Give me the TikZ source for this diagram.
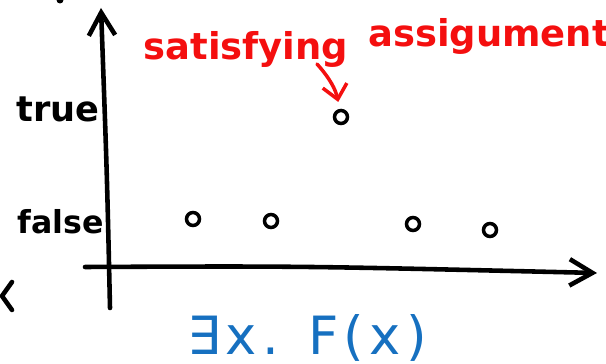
\documentclass[tikz,border=0pt]{standalone}
\usepackage{fontspec}
\usepackage{xcolor}
\usepackage{tikz}
\usetikzlibrary{arrows.meta}
\setmainfont{DejaVu Sans}
\newfontfamily\bluefont[LetterSpace=10]{DejaVu Sans}
\definecolor{handred}{HTML}{F40F0F}
\definecolor{handblue}{HTML}{1670C0}
\tikzset{
  axis/.style={draw=black,line width=1.3pt,line cap=round,
    -{Straight Barb[length=6.5pt,width=7.5pt]}},
  value pt/.style={circle,draw=black,line width=1pt,minimum size=0.13cm,inner sep=0pt},
  value label/.style={font=\bfseries\fontsize{10}{12}\selectfont,anchor=base},
  note/.style={text=handred,font=\bfseries\fontsize{10.5}{13}\selectfont,anchor=base},
  pointer/.style={draw=handred,line width=1pt,line cap=round,shorten >=2pt,
    -{Straight Barb[length=4pt,width=7pt]}},
  formula/.style={text=handblue,font=\bluefont\fontsize{15}{18}\selectfont,anchor=base},
  scrap/.style={draw=black,line width=1.3pt,line cap=round,line join=round}
}

\begin{document}
\begin{tikzpicture}
  \useasboundingbox (0,0) rectangle (6.06,3.64);
  \coordinate (yfoot) at (1.10,0.56);
  \coordinate (ytop) at (1.01,3.56);
  \coordinate (xleft) at (0.85,0.97);
  \coordinate (xright) at (5.97,0.91);
  \draw[axis] (yfoot) .. controls (1.07,1.9) .. (ytop);
  \draw[axis] (xleft) .. controls (3.0,0.98) .. (xright);
  \node[value label] (truelbl) at (0.58,2.42) {true};
  \node[value label,font=\bfseries\fontsize{9}{11}\selectfont] (falselbl) at (0.61,1.30) {false};
  \foreach \n/\x/\y in {f1/1.93/1.45, f2/2.71/1.43, f3/4.13/1.40, f4/4.90/1.34}
    \node[value pt] (\n) at (\x,\y) {};
  \node[value pt] (sat) at (3.41,2.47) {};
  \node[note] (satlbl) at (2.46,3.04) {satisfying};
  \node[note] (assignlbl) at (4.89,3.17) {assigument};
  \coordinate (tail) at (3.17,3.00);
  \draw[pointer] (tail) to[bend left=15] (sat);
  \node[formula] (exists) at (3.07,0.09) {∃x. F(x)};
  \draw[scrap] (0.12,0.82) -- (0.02,0.68) -- (0.12,0.54);
  \fill (0.60,3.64) circle (0.035);
\end{tikzpicture}
\end{document}
